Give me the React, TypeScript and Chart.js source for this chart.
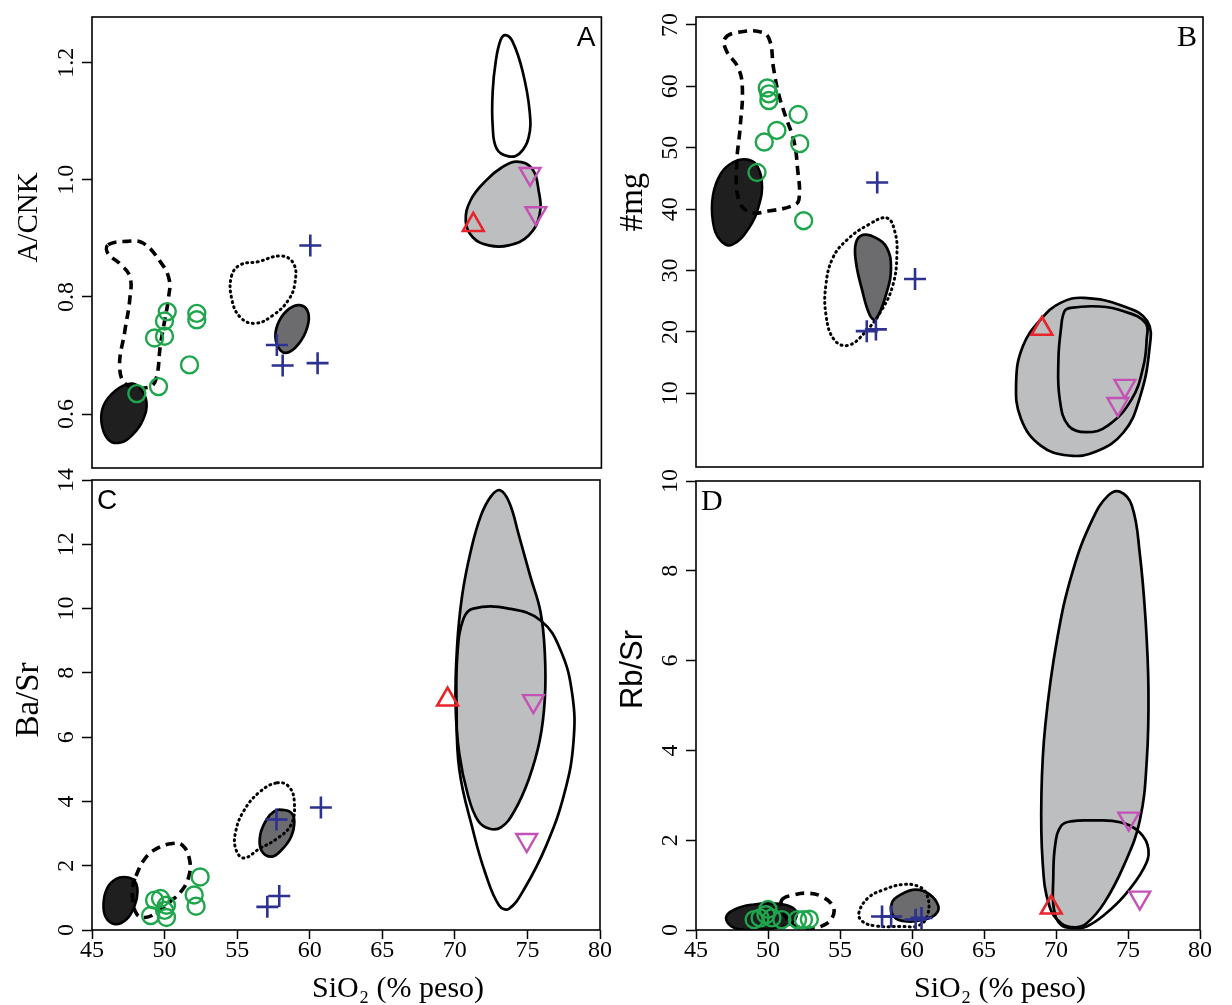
import React, { useEffect, useRef } from 'react';
import { Chart, registerables } from 'chart.js';

Chart.register(...registerables);

type Pt = [number, number];

// ---- shared SiO2 axis ----
const SIO2_MIN = 45;
const SIO2_MAX = 80;
const SIO2_TICKS = [45, 50, 55, 60, 65, 70, 75, 80];
const SIO2_TITLE = 'SiO₂ (% peso)';

// ---- Panel A: A/CNK ----
const ACNK_RANGE: Pt = [0.508, 1.278];
const ACNK_TICKS = [0.6, 0.8, 1.0, 1.2];
const A_FIELD_BLACK: Pt[] = [[47.6, 0.652], [48.3, 0.645], [48.75, 0.62], [48.5, 0.59], [47.8, 0.565], [46.9, 0.551], [46.1, 0.557], [45.65, 0.585], [45.8, 0.615], [46.6, 0.64]];
const A_FIELD_DASHED: Pt[] = [[46.1, 0.889], [47.4, 0.895], [48.5, 0.892], [49.7, 0.86], [50.3, 0.83], [50.25, 0.797], [49.98, 0.758], [49.7, 0.718], [49.4, 0.66], [48.9, 0.646], [47.4, 0.65], [46.9, 0.68], [47.25, 0.741], [47.6, 0.797], [47.6, 0.835], [46.9, 0.857], [46.1, 0.874]];
const A_FIELD_DOTTED: Pt[] = [[54.59, 0.836], [55.2, 0.855], [56.37, 0.86], [58.0, 0.87], [58.85, 0.857], [58.95, 0.825], [58.5, 0.795], [57.45, 0.769], [56.23, 0.755], [55.2, 0.765], [54.6, 0.797]];
const A_FIELD_DARK: Pt[] = [[59.25, 0.786], [59.79, 0.777], [59.86, 0.755], [59.38, 0.726], [58.56, 0.706], [57.95, 0.709], [57.6, 0.733], [57.88, 0.76], [58.56, 0.78]];
const A_FIELD_LIGHT: Pt[] = [[74.18, 1.031], [75.21, 1.02], [75.68, 0.983], [75.75, 0.94], [75.0, 0.905], [73.63, 0.888], [72.26, 0.888], [71.16, 0.902], [70.68, 0.929], [71.03, 0.966], [72.12, 1.0], [73.15, 1.021]];
const A_FIELD_OPEN: Pt[] = [[73.42, 1.247], [73.9, 1.236], [74.59, 1.185], [75.07, 1.117], [75.0, 1.072], [74.38, 1.045], [73.63, 1.04], [72.81, 1.053], [72.53, 1.092], [72.53, 1.151], [72.74, 1.202], [73.08, 1.239]];
const A_CIRCLES: Pt[] = [[48.08, 0.635], [49.57, 0.647], [49.3, 0.73], [49.98, 0.733], [49.98, 0.759], [50.17, 0.775], [51.7, 0.684], [52.2, 0.772], [52.2, 0.761]];
const A_CROSSES: Pt[] = [[60.0, 0.888], [57.7, 0.718], [58.1, 0.683], [60.5, 0.687]];
const A_TRI_UP: Pt[] = [[71.2, 0.923]];
const A_TRI_DOWN: Pt[] = [[75.1, 1.01], [75.5, 0.943]];

// ---- Panel B: #mg ----
const MG_RANGE: Pt = [-2, 71.3];
const MG_TICKS = [10, 20, 30, 40, 50, 60, 70];
const B_FIELD_BLACK: Pt[] = [[48.38, 48.12], [49.14, 47.31], [49.55, 44.39], [49.35, 40.66], [48.66, 36.94], [47.48, 34.18], [46.66, 34.99], [46.17, 37.91], [46.17, 42.29], [46.73, 45.85], [47.55, 47.64]];
const B_FIELD_DASHED: Pt[] = [[47.0, 67.8], [47.9, 68.8], [49.6, 68.8], [50.1, 67.4], [50.35, 63.0], [50.7, 58.8], [51.2, 55.0], [51.75, 51.2], [52.0, 46.9], [52.1, 41.5], [51.6, 40.5], [50.0, 39.7], [48.7, 39.5], [47.95, 41.5], [47.8, 46.9], [48.05, 53.4], [48.2, 59.8], [47.9, 63.1], [47.1, 65.8]];
const B_FIELD_DOTTED: Pt[] = [[58.18, 38.56], [58.73, 36.29], [58.87, 32.56], [58.6, 27.7], [57.84, 23.65], [56.66, 19.92], [55.49, 17.81], [54.52, 18.79], [53.97, 22.84], [53.97, 27.7], [54.45, 32.08], [55.42, 34.99], [56.87, 37.42]];
const B_FIELD_DARK: Pt[] = [[56.53, 35.81], [57.42, 35.32], [58.18, 33.7], [58.46, 30.46], [58.18, 26.57], [57.42, 22.03], [57.01, 22.68], [56.46, 26.89], [56.04, 31.43], [56.04, 34.51]];
const B_FIELD_LIGHT: Pt[] = [[71.8, 25.55], [74.52, 24.18], [76.16, 21.75], [76.3, 17.16], [75.61, 9.06], [74.52, 3.66], [72.62, 0.52], [70.71, -0.13], [68.8, 1.49], [67.44, 5.82], [67.1, 11.77], [67.57, 17.7], [68.8, 22.03], [70.16, 24.74]];
const B_FIELD_OPEN: Pt[] = [[70.85, 23.93], [72.88, 24.14], [74.52, 23.37], [76.03, 21.49], [76.11, 18.79], [75.89, 14.46], [75.08, 9.06], [73.43, 4.74], [71.94, 3.67], [70.71, 4.74], [70.11, 9.06], [70.02, 15.55], [70.19, 20.41], [70.43, 23.33]];
const B_CIRCLES: Pt[] = [[49.21, 45.97], [49.71, 50.93], [50.58, 52.82], [49.92, 59.74], [50.03, 58.77], [50.03, 57.69], [52.05, 55.42], [52.16, 50.67], [52.43, 38.12]];
const B_CROSSES: Pt[] = [[57.51, 44.35], [60.12, 28.62], [56.79, 20.13], [57.42, 20.41]];
const B_TRI_UP: Pt[] = [[68.88, 20.52]];
const B_TRI_DOWN: Pt[] = [[74.61, 11.22], [74.12, 8.25]];

// ---- Panel C: Ba/Sr ----
const BASR_RANGE: Pt = [0, 14];
const BASR_TICKS = [0, 2, 4, 6, 8, 10, 12, 14];
const C_FIELD_BLACK: Pt[] = [[47.4, 1.64], [47.95, 1.52], [48.14, 1.2], [47.95, 0.77], [47.4, 0.34], [46.58, 0.18], [45.95, 0.39], [45.79, 0.82], [46.04, 1.3], [46.66, 1.59]];
const C_FIELD_DASHED: Pt[] = [[48.03, 1.68], [48.63, 2.21], [49.45, 2.53], [50.54, 2.69], [51.22, 2.64], [51.71, 2.21], [51.68, 1.68], [51.14, 1.2], [50.26, 0.84], [49.31, 0.5], [48.63, 0.39], [48.08, 0.5], [47.81, 0.93], [47.81, 1.36]];
const C_FIELD_DOTTED: Pt[] = [[57.77, 4.58], [58.58, 4.45], [58.94, 3.97], [58.72, 3.28], [57.77, 2.85], [56.54, 2.53], [55.45, 2.24], [54.9, 2.53], [54.9, 3.06], [55.45, 3.7], [56.54, 4.29]];
const C_FIELD_DARK: Pt[] = [[58.04, 3.74], [58.72, 3.65], [58.94, 3.38], [58.72, 2.9], [58.04, 2.48], [57.36, 2.28], [56.67, 2.48], [56.59, 2.96], [57.03, 3.44], [57.57, 3.7]];
const C_FIELD_LIGHT: Pt[] = [[73.12, 13.68], [73.75, 13.3], [74.4, 12.3], [75.2, 11.0], [75.9, 9.9], [76.2, 8.6], [76.2, 7.2], [75.85, 5.9], [75.1, 4.7], [74.1, 3.7], [73.2, 3.2], [72.4, 3.15], [71.6, 3.4], [70.9, 4.2], [70.3, 5.5], [70.05, 7.0], [70.15, 8.8], [70.5, 10.4], [71.1, 11.8], [71.8, 12.9], [72.5, 13.5]];
const C_FIELD_OPEN: Pt[] = [[70.59, 9.68], [71.27, 10.0], [73.72, 10.0], [75.91, 9.63], [77.27, 8.72], [78.09, 7.33], [78.17, 5.84], [77.54, 4.24], [76.31, 2.64], [74.81, 1.3], [73.72, 0.66], [73.04, 0.77], [72.09, 1.78], [71.27, 3.06], [70.31, 4.98], [70.12, 6.91], [70.18, 8.61]];
const C_CIRCLES: Pt[] = [[49.04, 0.45], [50.13, 0.39], [49.31, 0.93], [49.72, 0.98], [50.13, 0.77], [50.0, 0.61], [52.04, 1.09], [52.17, 0.74], [52.45, 1.65]];
const C_CROSSES: Pt[] = [[57.71, 3.44], [60.77, 3.81], [57.08, 0.72], [57.9, 1.06]];
const C_TRI_UP: Pt[] = [[69.5, 7.17]];
const C_TRI_DOWN: Pt[] = [[75.41, 7.12], [74.95, 2.8]];

// ---- Panel D: Rb/Sr ----
const RBSR_RANGE: Pt = [0, 10];
const RBSR_TICKS = [0, 2, 4, 6, 8, 10];
const D_FIELD_BLACK: Pt[] = [[47.08, 0.27], [47.68, 0.46], [49.04, 0.57], [50.41, 0.59], [51.5, 0.53], [51.99, 0.38], [51.64, 0.15], [50.41, 0.04], [48.77, 0.0], [47.68, 0.04]];
const D_FIELD_DASHED: Pt[] = [[50.96, 0.67], [51.78, 0.78], [52.73, 0.82], [53.69, 0.75], [54.51, 0.53], [54.45, 0.27], [53.69, 0.08], [52.73, 0.04], [51.78, 0.11], [51.09, 0.38]];
const D_FIELD_DOTTED: Pt[] = [[56.31, 0.38], [56.97, 0.72], [58.06, 0.9], [59.29, 1.01], [60.38, 0.98], [61.01, 0.8], [61.12, 0.38], [60.52, 0.11], [59.15, 0.08], [57.51, 0.09], [56.56, 0.19]];
const D_FIELD_DARK: Pt[] = [[58.61, 0.61], [59.29, 0.8], [60.25, 0.9], [61.2, 0.8], [61.83, 0.53], [61.61, 0.34], [60.79, 0.23], [59.7, 0.19], [58.74, 0.3]];
const D_FIELD_LIGHT: Pt[] = [[74.45, 9.76], [75.27, 9.45], [75.82, 8.38], [76.23, 6.86], [76.42, 5.34], [76.31, 3.81], [75.82, 2.44], [74.73, 1.45], [73.36, 0.61], [72.13, 0.15], [71.31, 0.06], [70.36, 0.15], [69.54, 0.53], [69.07, 1.52], [68.99, 3.05], [69.26, 4.57], [70.08, 6.48], [71.17, 8.0], [72.54, 9.15], [73.63, 9.68]];
const D_FIELD_OPEN: Pt[] = [[70.36, 2.32], [71.04, 2.42], [72.54, 2.44], [74.45, 2.4], [75.82, 2.17], [76.42, 1.79], [76.09, 1.37], [74.73, 0.76], [73.36, 0.34], [72.13, 0.08], [71.31, 0.04], [70.36, 0.11], [69.86, 0.46], [69.81, 1.14], [69.95, 1.91]];
const D_CIRCLES: Pt[] = [[49.04, 0.23], [49.45, 0.27], [49.86, 0.34], [50.0, 0.46], [50.27, 0.27], [50.96, 0.23], [52.05, 0.23], [52.46, 0.23], [52.87, 0.24]];
const D_CROSSES: Pt[] = [[57.92, 0.3], [58.55, 0.3], [60.25, 0.23], [60.66, 0.27]];
const D_TRI_UP: Pt[] = [[69.67, 0.5]];
const D_TRI_DOWN: Pt[] = [[75.05, 2.48], [75.82, 0.72]];

// ---- styling ----
const GREEN = '#1fa64d';
const BLUE = '#2d3190';
const RED = '#e8242b';
const MAGENTA = '#c451b6';
const SERIF = '"Liberation Serif", "Times New Roman", serif';
const SANS = '"Liberation Sans", Arial, sans-serif';

type FieldKind = 'black' | 'dark' | 'light' | 'open' | 'dashed' | 'dotted';
const FIELD_STYLE: Record<FieldKind, { fill: string | null; dash: number[]; cap: string; width: number; order: number }> = {
  black: { fill: '#1f1f1f', dash: [], cap: 'butt', width: 2.5, order: 10 },
  dark: { fill: '#6c6c6f', dash: [], cap: 'butt', width: 2.7, order: 10 },
  light: { fill: '#bdbec0', dash: [], cap: 'butt', width: 2.7, order: 10 },
  open: { fill: null, dash: [], cap: 'butt', width: 2.7, order: 5 },
  dashed: { fill: null, dash: [9, 6], cap: 'butt', width: 3.6, order: 5 },
  dotted: { fill: null, dash: [1, 4.3], cap: 'round', width: 3, order: 5 },
};

// Turns the smoothed outline datasets into closed curves (same mechanism the radar controller uses).
const closedLoopPlugin = {
  id: 'closedLoop',
  afterDatasetUpdate(chart: any, args: any) {
    const ds = chart.data.datasets[args.index];
    const line = args.meta && args.meta.dataset;
    if (ds && ds.closedLoop && line) {
      line._loop = true;
      line._fullLoop = true;
      delete line._segments;
      delete line._path;
      line._pointsUpdated = false;
    }
  },
};

// Plot frame, panel letter and axis titles.
const panelFramePlugin = {
  id: 'panelFrame',
  afterDraw(chart: any, _args: any, o: any) {
    const { ctx, chartArea: a } = chart;
    ctx.save();
    ctx.strokeStyle = '#000';
    ctx.lineWidth = 1.6;
    ctx.strokeRect(a.left, a.top, a.right - a.left, a.bottom - a.top);
    ctx.fillStyle = '#000';

    ctx.font = o.letterFont;
    ctx.textBaseline = 'alphabetic';
    if (o.corner === 'right') {
      ctx.textAlign = 'right';
      ctx.fillText(o.letter, a.right - 6, a.top + 29);
    } else {
      ctx.textAlign = 'left';
      ctx.fillText(o.letter, a.left + 5, a.top + 29);
    }

    ctx.textAlign = 'center';
    ctx.textBaseline = 'middle';
    if (o.xTitle) {
      ctx.font = o.xFont;
      ctx.fillText(o.xTitle, (a.left + a.right) / 2 + o.xShift, a.bottom + 59);
    }
    ctx.save();
    ctx.font = o.yFont;
    ctx.translate(a.left - 63, (a.top + a.bottom) / 2 + o.yShift);
    ctx.rotate(-Math.PI / 2);
    ctx.fillText(o.yTitle, 0, 0);
    ctx.restore();
    ctx.restore();
  },
};

interface PanelDef {
  left: number;
  top: number;
  width: number;
  height: number;
  pad: { top: number; right: number; bottom: number };
  showX: boolean;
  yRange: Pt;
  yTicks: number[];
  yDecimals: number;
  yTickPad: number;
  yTitle: string;
  yFont: string;
  yShift: number;
  letter: string;
  letterFont: string;
  corner: 'left' | 'right';
  fields: [FieldKind, Pt[]][];
  circles: Pt[];
  crosses: Pt[];
  triUp: Pt[];
  triDown: Pt[];
}

const PANELS: PanelDef[] = [
  {
    left: 0, top: 0, width: 616, height: 490, pad: { top: 17, right: 13, bottom: 22 }, showX: false,
    yRange: ACNK_RANGE, yTicks: ACNK_TICKS, yDecimals: 1, yTickPad: 0,
    yTitle: 'A/CNK', yFont: `29px ${SERIF}`, yShift: -25,
    letter: 'A', letterFont: `28px ${SANS}`, corner: 'right',
    fields: [['light', A_FIELD_LIGHT], ['dark', A_FIELD_DARK], ['black', A_FIELD_BLACK], ['open', A_FIELD_OPEN], ['dotted', A_FIELD_DOTTED], ['dashed', A_FIELD_DASHED]],
    circles: A_CIRCLES, crosses: A_CROSSES, triUp: A_TRI_UP, triDown: A_TRI_DOWN,
  },
  {
    left: 604, top: 0, width: 616, height: 490, pad: { top: 17, right: 17, bottom: 23 }, showX: false,
    yRange: MG_RANGE, yTicks: MG_TICKS, yDecimals: 0, yTickPad: 3,
    yTitle: '#mg', yFont: `33px ${SERIF}`, yShift: -40,
    letter: 'B', letterFont: `30px ${SERIF}`, corner: 'right',
    fields: [['light', B_FIELD_LIGHT], ['dark', B_FIELD_DARK], ['black', B_FIELD_BLACK], ['open', B_FIELD_OPEN], ['dotted', B_FIELD_DOTTED], ['dashed', B_FIELD_DASHED]],
    circles: B_CIRCLES, crosses: B_CROSSES, triUp: B_TRI_UP, triDown: B_TRI_DOWN,
  },
  {
    left: 0, top: 455, width: 616, height: 550, pad: { top: 25, right: 16, bottom: 0 }, showX: true,
    yRange: BASR_RANGE, yTicks: BASR_TICKS, yDecimals: 0, yTickPad: 3,
    yTitle: 'Ba/Sr', yFont: `33px ${SERIF}`, yShift: -5,
    letter: 'C', letterFont: `28px ${SANS}`, corner: 'left',
    fields: [['light', C_FIELD_LIGHT], ['dark', C_FIELD_DARK], ['black', C_FIELD_BLACK], ['open', C_FIELD_OPEN], ['dotted', C_FIELD_DOTTED], ['dashed', C_FIELD_DASHED]],
    circles: C_CIRCLES, crosses: C_CROSSES, triUp: C_TRI_UP, triDown: C_TRI_DOWN,
  },
  {
    left: 604, top: 455, width: 616, height: 550, pad: { top: 26, right: 20, bottom: 0 }, showX: true,
    yRange: RBSR_RANGE, yTicks: RBSR_TICKS, yDecimals: 0, yTickPad: 3,
    yTitle: 'Rb/Sr', yFont: `31px ${SANS}`, yShift: -36,
    letter: 'D', letterFont: `30px ${SERIF}`, corner: 'left',
    fields: [['light', D_FIELD_LIGHT], ['dark', D_FIELD_DARK], ['black', D_FIELD_BLACK], ['open', D_FIELD_OPEN], ['dotted', D_FIELD_DOTTED], ['dashed', D_FIELD_DASHED]],
    circles: D_CIRCLES, crosses: D_CROSSES, triUp: D_TRI_UP, triDown: D_TRI_DOWN,
  },
];

const toXY = (pts: Pt[]) => pts.map(([x, y]) => ({ x, y }));

function markerSet(pts: Pt[], style: string, color: string, radius: number, width: number, rotation = 0) {
  return {
    data: toXY(pts),
    showLine: false,
    pointStyle: style,
    pointRadius: radius,
    pointHoverRadius: radius,
    pointBorderWidth: width,
    pointHoverBorderWidth: width,
    pointBorderColor: color,
    pointBackgroundColor: 'rgba(0,0,0,0)',
    pointRotation: rotation,
    order: 0,
  };
}

function buildConfig(p: PanelDef): any {
  const datasets: any[] = p.fields.map(([kind, pts]) => {
    const st = FIELD_STYLE[kind];
    return {
      data: toXY(pts),
      showLine: true,
      closedLoop: true,
      pointRadius: 0,
      pointHoverRadius: 0,
      borderColor: '#000',
      borderWidth: st.width,
      borderDash: st.dash,
      borderCapStyle: st.cap,
      borderJoinStyle: 'round',
      backgroundColor: st.fill ?? 'rgba(0,0,0,0)',
      fill: st.fill ? 'shape' : false,
      tension: 0.42,
      order: st.order,
    };
  });
  datasets.push(markerSet(p.circles, 'circle', GREEN, 8.5, 2.4));
  datasets.push(markerSet(p.crosses, 'cross', BLUE, 11, 2.6));
  datasets.push(markerSet(p.triUp, 'triangle', RED, 12, 2.6));
  datasets.push(markerSet(p.triDown, 'triangle', MAGENTA, 12, 2.4, 180));

  const grid = (len: number) => ({ display: true, drawOnChartArea: false, drawTicks: true, tickLength: len, tickColor: '#000', tickWidth: 1.5 });
  const tickFont = { family: SERIF, size: 24, lineHeight: 1 };

  return {
    type: 'scatter',
    data: { datasets },
    plugins: [closedLoopPlugin, panelFramePlugin],
    options: {
      animation: false,
      responsive: false,
      maintainAspectRatio: false,
      devicePixelRatio: 1,
      events: [],
      layout: { padding: { left: 0, top: p.pad.top, right: p.pad.right, bottom: p.pad.bottom } },
      plugins: {
        legend: { display: false },
        tooltip: { enabled: false },
        panelFrame: {
          letter: p.letter,
          letterFont: p.letterFont,
          corner: p.corner,
          xTitle: p.showX ? SIO2_TITLE : '',
          xFont: `30px ${SERIF}`,
          xShift: 52,
          yTitle: p.yTitle,
          yFont: p.yFont,
          yShift: p.yShift,
        },
      },
      scales: {
        x: {
          type: 'linear',
          position: 'bottom',
          min: SIO2_MIN,
          max: SIO2_MAX,
          display: p.showX,
          afterBuildTicks: (s: any) => { s.ticks = SIO2_TICKS.map((v) => ({ value: v })); },
          afterFit: (s: any) => { s.height = p.showX ? 75 : 0; },
          grid: grid(9),
          border: { display: false },
          ticks: { autoSkip: false, maxRotation: 0, minRotation: 0, padding: 0, color: '#000', font: tickFont },
          title: { display: false },
        },
        y: {
          type: 'linear',
          position: 'left',
          min: p.yRange[0],
          max: p.yRange[1],
          afterBuildTicks: (s: any) => { s.ticks = p.yTicks.map((v) => ({ value: v })); },
          afterFit: (s: any) => { s.width = 92; },
          grid: grid(10),
          border: { display: false },
          ticks: {
            autoSkip: false,
            minRotation: 90,
            maxRotation: 90,
            crossAlign: 'center',
            padding: p.yTickPad,
            color: '#000',
            font: tickFont,
            callback: (v: number) => v.toFixed(p.yDecimals),
          },
          title: { display: false },
        },
      },
    },
  };
}

function Panel({ def }: { def: PanelDef }) {
  const ref = useRef<HTMLCanvasElement>(null);
  useEffect(() => {
    if (!ref.current) return;
    const chart = new Chart(ref.current, buildConfig(def));
    return () => chart.destroy();
  }, [def]);
  return (
    <canvas
      ref={ref}
      width={def.width}
      height={def.height}
      style={{ position: 'absolute', left: def.left, top: def.top, width: def.width, height: def.height }}
    />
  );
}

export default function App() {
  return (
    <div style={{ position: 'absolute', left: 0, top: 0, width: 1232, height: 1005, background: '#fff', overflow: 'hidden' }}>
      {PANELS.map((d, i) => (
        <Panel key={i} def={d} />
      ))}
    </div>
  );
}
